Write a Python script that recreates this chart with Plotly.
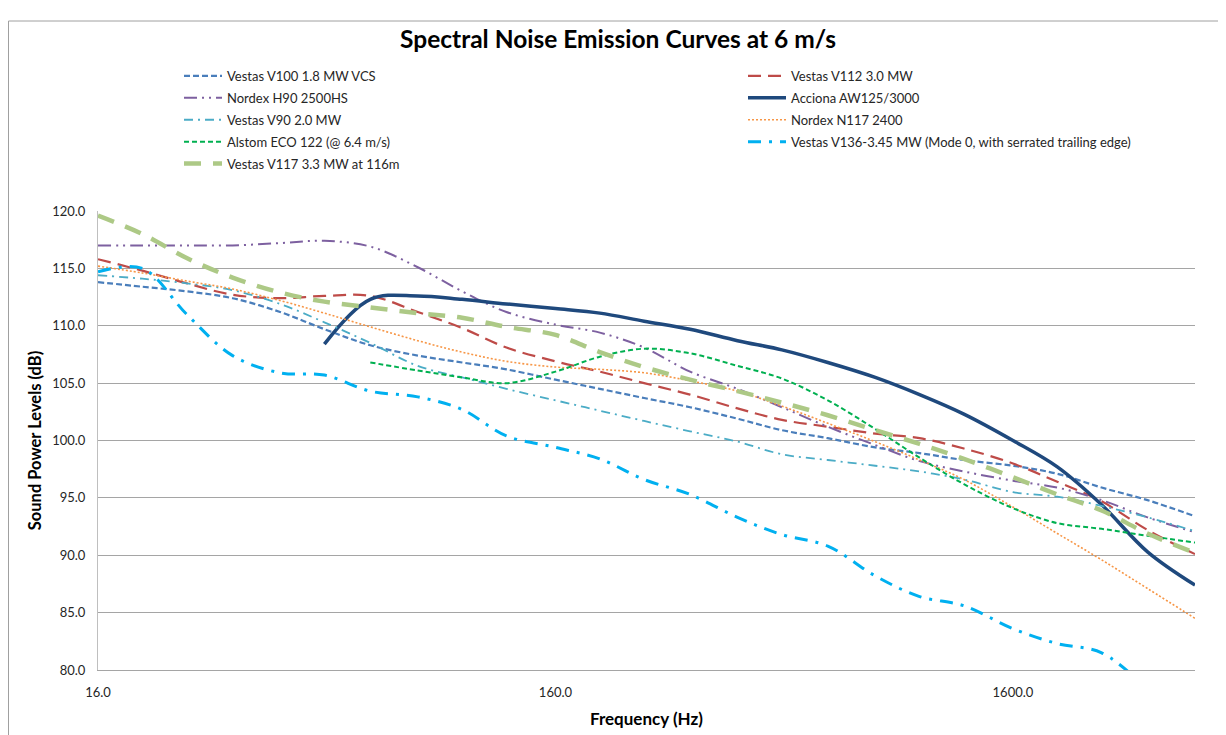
import plotly.graph_objects as go

# 1/3-octave band centre frequencies (Hz)
freq_hz = [16, 20, 25, 31.5, 40, 50, 63, 80, 100, 125, 160, 200, 250, 315, 400,
           500, 630, 800, 1000, 1250, 1600, 2000, 2500, 3150, 4000]

# Sound power levels (dB) per turbine
vestas_v100 = [113.8, 113.4, 113.0, 112.4, 111.2, 109.7, 108.3, 107.4, 106.8, 106.2, 105.3, 104.5, 103.7,
               102.9, 101.9, 100.9, 100.2, 99.4, 98.9, 98.3, 97.8, 97.1, 95.9, 94.8, 93.4]
vestas_v112 = [115.8, 114.8, 113.7, 112.7, 112.4, 112.6, 112.6, 111.2, 109.8, 108.1, 106.9, 106.0, 105.0,
               104.0, 102.8, 101.8, 101.2, 100.6, 100.2, 99.3, 98.0, 96.4, 94.7, 92.2, 90.1]
nordex_h90 = [117.0, 117.0, 117.0, 117.0, 117.2, 117.4, 116.9, 115.1, 113.0, 111.2, 110.1, 109.4, 108.1,
              106.0, 104.5, 102.9, 101.2, 99.6, 98.2, 97.3, 96.5, 95.9, 94.8, 93.3, 92.0]
acciona_aw125 = [None, None, None, None, None, 108.4, 112.3, 112.6, 112.3, 111.9, 111.5, 111.1, 110.4,
                 109.7, 108.7, 107.9, 106.8, 105.5, 104.0, 102.3, 100.0, 97.7, 94.4, 90.3, 87.4]
vestas_v90 = [114.4, 114.1, 113.7, 113.1, 111.9, 110.3, 108.5, 106.5, 105.5, 104.5, 103.5, 102.6, 101.7,
              100.8, 99.9, 98.8, 98.3, 97.8, 97.3, 96.6, 95.5, 95.1, 94.3, 93.3, 92.1]
nordex_n117 = [115.2, 114.6, 113.9, 113.2, 112.2, 111.1, 109.9, 108.7, 107.7, 106.9, 106.4, 106.2, 105.9,
               105.2, 104.3, 103.0, 101.5, 99.9, 98.3, 96.6, 94.2, 91.9, 89.6, 87.1, 84.5]
alstom_eco122 = [None, None, None, None, None, None, 106.8, 106.1, 105.5, 105.0, 106.0, 107.3, 108.0,
                 107.6, 106.5, 105.4, 103.5, 101.0, 98.5, 96.2, 94.1, 92.8, 92.3, 91.7, 91.1]
vestas_v136 = [114.7, 115.0, 111.0, 107.4, 105.9, 105.7, 104.3, 103.8, 102.7, 100.4, 99.4, 98.4, 96.6,
               95.3, 93.3, 91.8, 90.8, 88.2, 86.4, 85.6, 83.6, 82.3, 81.5, 78.3, None]
vestas_v117 = [119.6, 118.0, 115.9, 114.2, 112.9, 112.1, 111.6, 111.1, 110.7, 109.9, 109.2, 107.7, 106.4,
               105.3, 104.3, 103.3, 102.2, 100.9, 99.7, 98.4, 96.8, 95.3, 93.9, 91.9, 90.2]

series_names = [
    "Vestas V100 1.8 MW VCS",
    "Vestas V112 3.0 MW",
    "Nordex H90 2500HS",
    "Acciona AW125/3000",
    "Vestas V90 2.0 MW",
    "Nordex N117 2400",
    "Alstom ECO 122 (@ 6.4 m/s)",
    "Vestas V136-3.45 MW (Mode 0, with serrated trailing edge)",
    "Vestas V117 3.3 MW at 116m",
]
series_values = [vestas_v100, vestas_v112, nordex_h90, acciona_aw125, vestas_v90,
                 nordex_n117, alstom_eco122, vestas_v136, vestas_v117]

x_tick_vals = [16, 160, 1600]
x_tick_text = ["16.0", "160.0", "1600.0"]

styles = [
    dict(color="#4A7EBB", width=2.2, dash="6px,3px"),
    dict(color="#BE4B48", width=2.2, dash="13px,7px"),
    dict(color="#7D60A0", width=2.0, dash="13px,5px,2px,5px,2px,5px"),
    dict(color="#1F497D", width=3.5, dash="solid"),
    dict(color="#4BACC6", width=1.8, dash="9px,5px,2px,5px"),
    dict(color="#F79646", width=1.6, dash="2px,2px"),
    dict(color="#00B050", width=2.0, dash="5px,3px"),
    dict(color="#00B0F0", width=3.0, dash="13px,8px,3px,8px"),
    dict(color="#ADC986", width=4.5, dash="17px,12px"),
]
legend_ref = ["legend", "legend2", "legend", "legend2", "legend", "legend2", "legend", "legend2", "legend"]

FONT = "Lato, 'Open Sans', Arial, sans-serif"

fig = go.Figure()
for i, (name, vals, st, lg) in enumerate(zip(series_names, series_values, styles, legend_ref)):
    fig.add_trace(go.Scatter(
        x=freq_hz, y=vals, name=name, mode="lines",
        line=dict(color=st["color"], width=st["width"], dash=st["dash"], shape="spline", smoothing=1.0),
        legend=lg, legendgroup=f"g{i}",
    ))

# page has an 8px body margin; work in page pixel coordinates
OFF = 8
W, H = 1226 - OFF, 735 - OFF
PL, PR, PT, PB = 98, 1195, 211, 670   # plot area in page pixels
L, R, T, B = PL - OFF, 1226 - PR, PT - OFF, 735 - PB
pw = W - L - R
ph = H - T - B


def px_x(p):
    return (p - PL) / pw


def px_y(p):
    return (PB - p) / ph


legend_common = dict(
    orientation="v", yanchor="top", xanchor="left",
    bgcolor="rgba(0,0,0,0)", itemwidth=38, tracegroupgap=2,
    font=dict(family=FONT, size=13, color="#262626"),
)

fig.update_layout(
    width=W, height=H,
    margin=dict(l=L, r=R, t=T, b=B, autoexpand=False),
    paper_bgcolor="white", plot_bgcolor="white",
    font=dict(family=FONT, color="#262626"),
    title=dict(text="<b>Spectral Noise Emission Curves at 6 m/s</b>",
               x=(618 - OFF) / W, xanchor="center", y=1 - (39 - OFF) / H, yanchor="middle",
               font=dict(family=FONT, size=24.5, color="black")),
    showlegend=True,
    legend=dict(x=px_x(179), y=px_y(61), **legend_common),
    legend2=dict(x=px_x(743), y=px_y(61), **legend_common),
    xaxis=dict(
        type="log", range=[1.20412, 3.60206],
        tickvals=x_tick_vals, ticktext=x_tick_text,
        showgrid=False, zeroline=False,
        showline=True, linecolor="#A5A5A5", linewidth=1,
        ticks="", ticklabelstandoff=10, automargin=False,
        tickfont=dict(family=FONT, size=13, color="#262626"),
        title=dict(text="<b>Frequency (Hz)</b>", standoff=14,
                   font=dict(family=FONT, size=17, color="black")),
    ),
    yaxis=dict(
        range=[80, 120], dtick=5, tick0=80, tickformat=".1f",
        showgrid=True, gridcolor="#A5A5A5", gridwidth=1,
        zeroline=False, showline=True, linecolor="#BFBFBF", linewidth=1,
        ticks="", ticklabelstandoff=9, automargin=False,
        tickfont=dict(family=FONT, size=13, color="#262626"),
        title=dict(text="<b>Sound Power Levels (dB)</b>", standoff=6,
                   font=dict(family=FONT, size=16.5, color="black")),
    ),
    shapes=[
        dict(type="path", xref="paper", yref="paper",
             path=f"M {px_x(8.5)} {px_y(740)} L {px_x(8.5)} {px_y(21)} L {px_x(1230)} {px_y(21)}",
             line=dict(color="#A0A0A0", width=1)),
    ],
)

fig.write_html("out.html")
